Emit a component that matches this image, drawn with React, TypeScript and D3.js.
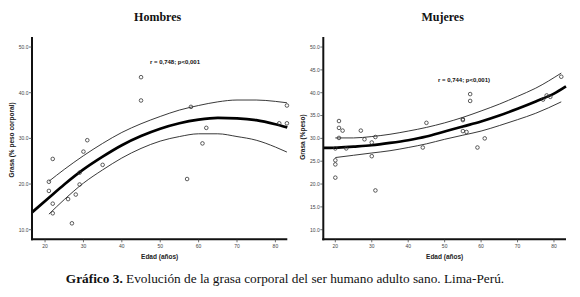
import React from "react";
import * as d3 from "d3";

// ---------- DATA ----------
const xTicks = [20, 30, 40, 50, 60, 70, 80];
const menYTicks = [10, 20, 30, 40, 50];
const womenYTicks = [10, 15, 20, 25, 30, 35, 40, 45, 50];

const menAge = [45, 45, 58, 83, 81, 83, 62, 61, 31, 22, 30, 35, 29, 21, 21, 29, 28, 26, 22, 22, 27, 57];
const menFat = [43.4, 38.3, 36.9, 37.2, 33.3, 33.3, 32.3, 28.9, 29.6, 25.5, 27.1, 24.2, 22.5, 20.5, 18.5, 19.9, 17.7, 16.7, 15.7, 13.6, 11.4, 21.1];

const menFitAge = [16.6, 21, 25, 30, 35, 40, 45, 50, 55, 60, 65, 70, 75, 80, 83.1];
const menFit = [13.8, 17.0, 19.9, 23.2, 26.0, 28.5, 30.5, 32.1, 33.3, 34.1, 34.5, 34.4, 34.0, 33.1, 32.4];
const menBandAge = [21, 25, 30, 35, 40, 45, 50, 55, 60, 65, 70, 75, 80, 83];
const menUpper = [20.6, 23.2, 26.2, 28.9, 31.3, 33.2, 34.8, 36.2, 37.2, 38.0, 38.4, 38.4, 38.1, 37.8];
const menLower = [13.4, 16.6, 20.2, 23.1, 25.7, 27.8, 29.4, 30.4, 31.0, 31.0, 30.4, 29.6, 28.1, 27.0];

const womenAge = [82, 57, 57, 55, 55, 55, 56, 61, 59, 45, 44, 77, 78, 79, 21, 21, 22, 21, 27, 28, 31, 30, 20, 23, 20, 20, 20, 30, 31];
const womenFat = [43.5, 39.7, 38.2, 34.0, 34.2, 31.6, 31.4, 30.0, 28.0, 33.4, 28.0, 38.5, 39.4, 39.1, 33.8, 32.3, 31.7, 30.1, 31.7, 29.8, 30.3, 29.1, 27.8, 27.8, 25.2, 24.3, 21.4, 26.1, 18.6];

const womenFitAge = [16.7, 20, 25, 30, 35, 40, 45, 50, 55, 60, 65, 70, 75, 80, 83.3];
const womenFit = [27.9, 27.95, 28.2, 28.5, 29.0, 29.6, 30.4, 31.5, 32.6, 33.7, 35.0, 36.5, 38.1, 39.8, 41.4];
const womenBandAge = [20, 25, 30, 35, 40, 45, 50, 55, 60, 65, 70, 75, 82];
const womenUpper = [30.1, 30.1, 30.4, 30.9, 31.6, 32.4, 33.4, 34.6, 36.0, 37.5, 39.2, 41.0, 44.3];
const womenLower = [25.8, 26.3, 26.8, 27.3, 28.0, 28.8, 29.8, 30.7, 31.6, 32.8, 34.1, 35.5, 38.0];

const SANS = "'Liberation Sans', Arial, sans-serif";
const SERIF = "'Liberation Serif', 'Times New Roman', serif";

type PanelProps = {
  title: string;
  yLabel: string;
  note: string;
  noteX: number;
  noteY: number;
  xRange: [number, number];
  xDomain: [number, number];
  yTicks: number[];
  ages: number[];
  fats: number[];
  fitAge: number[];
  fit: number[];
  bandAge: number[];
  upper: number[];
  lower: number[];
  yLabelX: number;
  yLabelY: number;
};

function Panel(p: PanelProps) {
  const x = d3.scaleLinear().domain(p.xDomain).range(p.xRange);
  const y = d3.scaleLinear().domain([7.9, 52.2]).range([239.3, 37]);
  const mk = (ages: number[], vals: number[]) =>
    d3
      .line<number>()
      .x((_, i) => x(ages[i]))
      .y((v) => y(v))
      .curve(d3.curveMonotoneX)(vals) || "";
  const [x0, x1] = p.xRange;
  const yb = y(7.9);
  const yt = y(52.2);
  const cx = (x0 + x1) / 2;
  return (
    <g>
      <text x={cx - 2} y={21} textAnchor="middle" fontFamily={SERIF} fontWeight="bold" fontSize={12} fill="#111">
        {p.title}
      </text>
      {/* fit lines */}
      <path d={mk(p.bandAge, p.upper)} fill="none" stroke="#222" strokeWidth={0.9} />
      <path d={mk(p.bandAge, p.lower)} fill="none" stroke="#222" strokeWidth={0.9} />
      <path d={mk(p.fitAge, p.fit)} fill="none" stroke="#000" strokeWidth={2.7} />
      {/* points */}
      {p.ages.map((a, i) => (
        <circle key={i} cx={x(a)} cy={y(p.fats[i])} r={1.8} fill="none" stroke="#333" strokeWidth={0.8} />
      ))}
      {/* axes */}
      <line x1={x0} x2={x0} y1={yt} y2={yb + 1} stroke="#111" strokeWidth={2} />
      <line x1={x0 - 1} x2={x1} y1={yb} y2={yb} stroke="#111" strokeWidth={2} />
      {p.yTicks.map((t) => (
        <g key={"y" + t}>
          <line x1={x0 - 3} x2={x0} y1={y(t)} y2={y(t)} stroke="#333" strokeWidth={0.7} />
          <text x={x0 - 3.5} y={y(t) + 1.8} textAnchor="end" fontFamily={SANS} fontSize={5} fill="#444">
            {t.toFixed(1)}
          </text>
        </g>
      ))}
      {xTicks.map((t) => (
        <g key={"x" + t}>
          <line x1={x(t)} x2={x(t)} y1={yb} y2={yb + 3} stroke="#333" strokeWidth={0.7} />
          <text x={x(t)} y={yb + 8.5} textAnchor="middle" fontFamily={SANS} fontSize={5} fill="#444">
            {t}
          </text>
        </g>
      ))}
      <text x={cx} y={259} textAnchor="middle" fontFamily={SANS} fontWeight="bold" fontSize={6.5} fill="#222">
        Edad (años)
      </text>
      <text
        transform={`translate(${p.yLabelX},${p.yLabelY}) rotate(-90)`}
        textAnchor="middle"
        fontFamily={SANS}
        fontWeight="bold"
        fontSize={6.5}
        fill="#222"
      >
        {p.yLabel}
      </text>
      <text x={p.noteX} y={p.noteY} textAnchor="middle" fontFamily={SANS} fontWeight="bold" fontSize={6} fill="#111">
        {p.note}
      </text>
    </g>
  );
}

export default function App() {
  return (
    <svg
      width={580}
      height={297}
      viewBox="0 0 580 297"
      style={{ position: "absolute", left: 0, top: 0, background: "#fff" }}
    >
      <rect width={580} height={297} fill="#fff" />
      <Panel
        title="Hombres"
        yLabel="Grasa (% peso corporal)"
        note="r = 0,748; p<0,001"
        noteX={175}
        noteY={64}
        xRange={[32, 287.3]}
        xDomain={[16.6, 83.1]}
        yTicks={menYTicks}
        ages={menAge}
        fats={menFat}
        fitAge={menFitAge}
        fit={menFit}
        bandAge={menBandAge}
        upper={menUpper}
        lower={menLower}
        yLabelX={14}
        yLabelY={140}
      />
      <Panel
        title="Mujeres"
        yLabel="Grasa (%peso)"
        note="r = 0,744; p<0,001)"
        noteX={464}
        noteY={82}
        xRange={[323.3, 566]}
        xDomain={[16.7, 83.3]}
        yTicks={womenYTicks}
        ages={womenAge}
        fats={womenFat}
        fitAge={womenFitAge}
        fit={womenFit}
        bandAge={womenBandAge}
        upper={womenUpper}
        lower={womenLower}
        yLabelX={305}
        yLabelY={137}
      />
      <text x={285} y={283} textAnchor="middle" fontFamily={SERIF} fontSize={13.3} fill="#111">
        <tspan fontWeight="bold">Gráfico 3.</tspan> Evolución de la grasa corporal del ser humano adulto sano. Lima-Perú.
      </text>
    </svg>
  );
}
